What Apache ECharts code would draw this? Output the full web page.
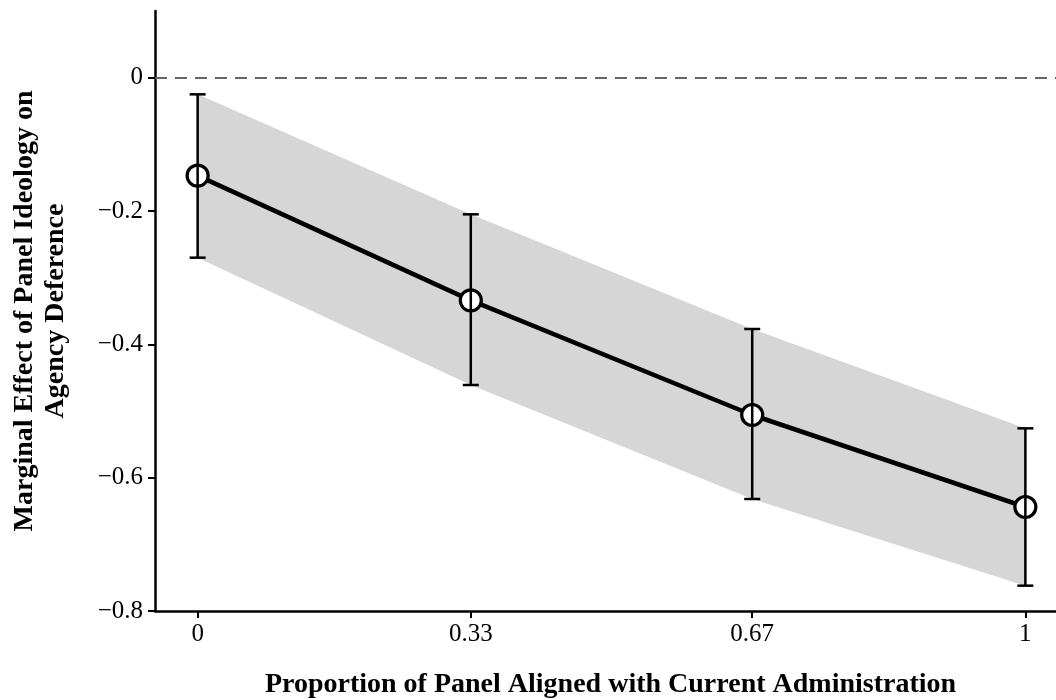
<!DOCTYPE html>
<html>
<head>
<meta charset="utf-8">
<script src="https://cdn.jsdelivr.net/npm/echarts@6/dist/echarts.min.js"></script>
<style>
  html, body { margin: 0; padding: 0; background: #ffffff; }
  #chart { width: 1056px; height: 700px; }
</style>
</head>
<body>
<div id="chart"></div>
<script>
// Proportion of panel aligned with the current administration
const xValues = [0, 0.33, 0.67, 1];
// Marginal effect estimates
const effect = [-0.147, -0.334, -0.506, -0.644];
// 95% interval bounds
const lower = [-0.270, -0.461, -0.632, -0.762];
const upper = [-0.025, -0.205, -0.377, -0.526];
// Axis ticks
const xTicks = [0, 0.33, 0.67, 1];
const xTickLabels = ['0', '0.33', '0.67', '1'];
const yTicks = [-0.8, -0.6, -0.4, -0.2, 0];

const serif = '"Liberation Serif", "DejaVu Serif", serif';

const points = xValues.map((x, i) => [x, effect[i]]);
const bars = xValues.map((x, i) => [x, lower[i], upper[i]]);

const chart = echarts.init(document.getElementById('chart'), null, { renderer: 'canvas' });

chart.setOption({
  animation: false,
  backgroundColor: '#ffffff',
  grid: { left: 155, right: 0, top: 11, bottom: 89, containLabel: false, outerBoundsMode: 'none' },
  xAxis: {
    type: 'value',
    min: -0.0515,
    max: 1.037,
    name: 'Proportion of Panel Aligned with Current Administration',
    nameLocation: 'middle',
    nameGap: 60,
    nameTextStyle: { fontFamily: serif, fontWeight: 'bold', fontSize: 28, color: '#000', padding: [0, 0, 0, 10] },
    axisLine: { show: true, onZero: false, lineStyle: { color: '#000', width: 2.5 } },
    axisTick: { show: true, length: 7, lineStyle: { color: '#000', width: 2 }, customValues: xTicks },
    axisLabel: {
      color: '#000', fontFamily: serif, fontSize: 25, margin: 11,
      customValues: xTicks,
      formatter: v => xTickLabels[xTicks.findIndex(t => Math.abs(t - v) < 1e-9)] ?? ''
    },
    splitLine: { show: false }
  },
  yAxis: {
    type: 'value',
    min: -0.8,
    max: 0.1,
    name: 'Marginal Effect of Panel Ideology on\nAgency Deference',
    nameLocation: 'middle',
    nameRotate: 90,
    nameGap: 84,
    nameTextStyle: { fontFamily: serif, fontWeight: 'bold', fontSize: 28, color: '#000', lineHeight: 31 },
    axisLine: { show: true, onZero: false, lineStyle: { color: '#000', width: 2.5 } },
    axisTick: { show: true, length: 7, lineStyle: { color: '#000', width: 2 }, customValues: yTicks },
    axisLabel: {
      color: '#000', fontFamily: serif, fontSize: 25, margin: 12,
      customValues: yTicks,
      formatter: v => (Math.abs(v) < 1e-9 ? '0' : String(+v.toFixed(1)).replace('-', '\u2212'))
    },
    splitLine: { show: false }
  },
  series: [
    {
      // confidence band
      type: 'custom',
      z: 1,
      silent: true,
      data: [0],
      renderItem: (params, api) => {
        const pts = [];
        xValues.forEach((x, i) => pts.push(api.coord([x, upper[i]])));
        for (let i = xValues.length - 1; i >= 0; i--) pts.push(api.coord([xValues[i], lower[i]]));
        return { type: 'polygon', shape: { points: pts }, style: { fill: '#d6d6d6' } };
      }
    },
    {
      // estimate line with zero reference
      type: 'line',
      z: 2,
      data: points,
      symbol: 'none',
      lineStyle: { color: '#000', width: 4.5 },
      markLine: {
        silent: true,
        symbol: 'none',
        label: { show: false },
        lineStyle: { color: '#666666', width: 2.2, type: [12, 8] },
        data: [{ yAxis: 0 }]
      }
    },
    {
      type: 'scatter',
      z: 3,
      data: points,
      symbol: 'circle',
      symbolSize: 21,
      itemStyle: { color: '#ffffff', borderColor: '#000', borderWidth: 3.2, opacity: 1 },
      emphasis: { disabled: true }
    },
    {
      // error bars
      type: 'custom',
      z: 4,
      silent: true,
      data: bars,
      renderItem: (params, api) => {
        const lo = api.coord([api.value(0), api.value(1)]);
        const hi = api.coord([api.value(0), api.value(2)]);
        const w = 8;
        const style = { stroke: '#000', lineWidth: 2.5 };
        return {
          type: 'group',
          children: [
            { type: 'line', shape: { x1: lo[0], y1: lo[1], x2: hi[0], y2: hi[1] }, style },
            { type: 'line', shape: { x1: lo[0] - w, y1: lo[1], x2: lo[0] + w, y2: lo[1] }, style },
            { type: 'line', shape: { x1: hi[0] - w, y1: hi[1], x2: hi[0] + w, y2: hi[1] }, style }
          ]
        };
      }
    }
  ]
});
</script>
</body>
</html>
